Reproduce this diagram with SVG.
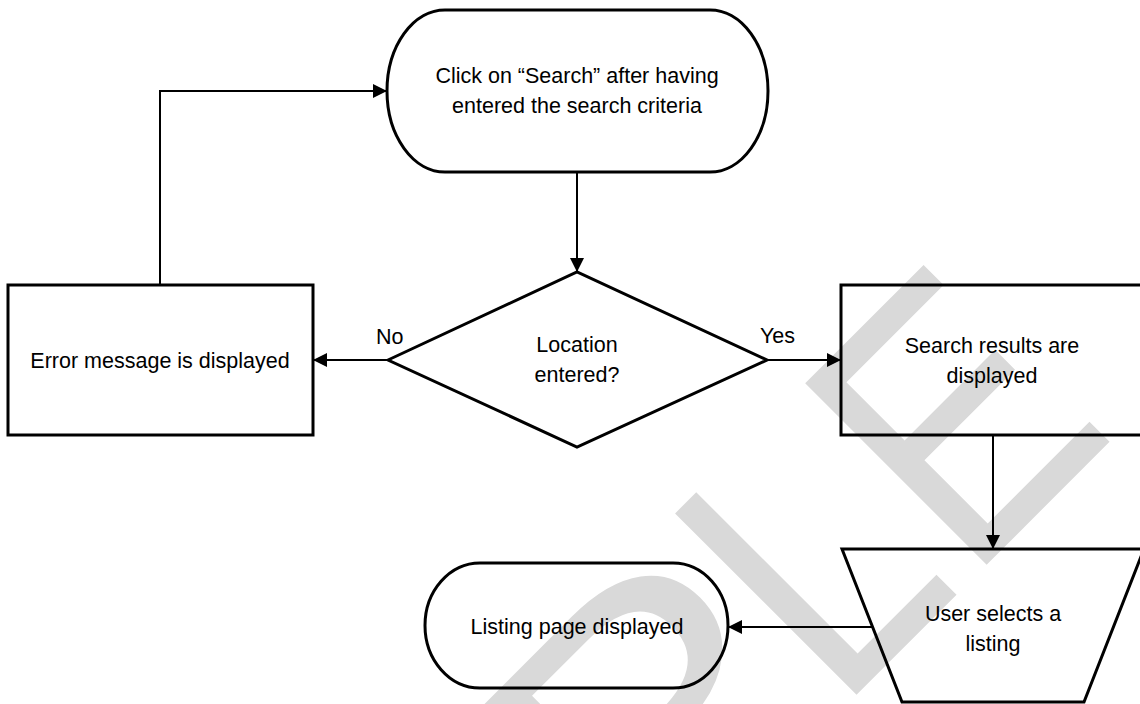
<svg xmlns="http://www.w3.org/2000/svg" width="1140" height="704" viewBox="0 0 1140 704">
  <defs>
    <style>
      .wm { font-family: "Liberation Sans", Arial, sans-serif; font-size: 373px; fill: #d9d9d9; }
      .shape { fill: none; stroke: #000; stroke-width: 3; }
      .conn { fill: none; stroke: #000; stroke-width: 2; }
      .t { font-family: "Liberation Sans", Arial, sans-serif; font-size: 21.5px; fill: #000; text-anchor: middle; }
      .lbl { font-family: "Liberation Sans", Arial, sans-serif; font-size: 21.5px; fill: #000; }
    </style>
    <marker id="arrow" markerUnits="userSpaceOnUse" markerWidth="14" markerHeight="14" refX="14" refY="7" orient="auto">
      <path d="M0,0 L14,7 L0,14 z" fill="#000"/>
    </marker>
  </defs>
  <rect width="1140" height="704" fill="#fff"/>
  <g id="watermark" transform="rotate(-45)">
    <text class="wm" transform="translate(-191,1097) scale(1.15,1)">P</text>
    <text class="wm" transform="translate(88,1097) scale(0.86,1)">L</text>
    <text class="wm" transform="translate(272,1097) scale(0.86,1)">E</text>
  </g>
  <g id="connectors">
    <path class="conn" d="M160,285 V91 H387" marker-end="url(#arrow)"/>
    <path class="conn" d="M577,172 V272" marker-end="url(#arrow)"/>
    <path class="conn" d="M388,360 H313" marker-end="url(#arrow)"/>
    <path class="conn" d="M767,360 H841" marker-end="url(#arrow)"/>
    <path class="conn" d="M993,435 V549" marker-end="url(#arrow)"/>
    <path class="conn" d="M872,627 H728" marker-end="url(#arrow)"/>
    <text class="lbl" x="376" y="344">No</text>
    <text class="lbl" x="760" y="343">Yes</text>
  </g>
  <g id="start">
    <rect class="shape" x="387" y="10" width="381" height="162" rx="58" ry="81"/>
    <text class="t" x="577" y="83">Click on “Search” after having</text>
    <text class="t" x="577" y="113">entered the search criteria</text>
  </g>
  <g id="decision">
    <polygon class="shape" points="388,360 577,272 767,360 577,447"/>
    <text class="t" x="577" y="352">Location</text>
    <text class="t" x="577" y="382">entered?</text>
  </g>
  <g id="error">
    <rect class="shape" x="8" y="285" width="305" height="150"/>
    <text class="t" x="160" y="368">Error message is displayed</text>
  </g>
  <g id="results">
    <rect class="shape" x="841" y="285" width="302" height="150"/>
    <text class="t" x="992" y="353">Search results are</text>
    <text class="t" x="992" y="383">displayed</text>
  </g>
  <g id="select">
    <polygon class="shape" points="842,549 1144,549 1084,702 902,702"/>
    <text class="t" x="993" y="621">User selects a</text>
    <text class="t" x="993" y="651">listing</text>
  </g>
  <g id="listing">
    <rect class="shape" x="425" y="563" width="303" height="125" rx="55" ry="62.5"/>
    <text class="t" x="577" y="634">Listing page displayed</text>
  </g>
</svg>
